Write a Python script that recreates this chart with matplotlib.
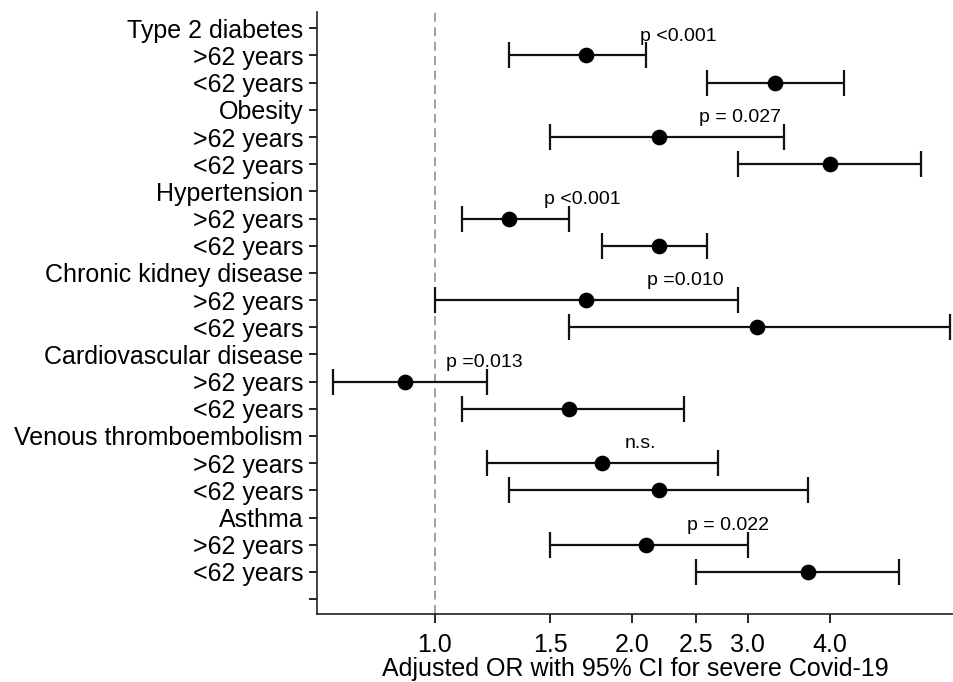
import numpy as np
import matplotlib
matplotlib.use("Agg")
import matplotlib.pyplot as plt

plt.rcParams['font.family'] = ['Liberation Sans', 'DejaVu Sans']

labels = ['Type 2 diabetes', '>62 years', '<62 years',
          'Obesity', '>62 years', '<62 years',
          'Hypertension', '>62 years', '<62 years',
          'Chronic kidney disease', '>62 years', '<62 years',
          'Cardiovascular disease', '>62 years', '<62 years',
          'Venous thromboembolism', '>62 years', '<62 years',
          'Asthma', '>62 years', '<62 years', '']

# odds ratios and 95% CI for the age rows (category rows have none)
rows = [1, 2, 4, 5, 7, 8, 10, 11, 13, 14, 16, 17, 19, 20]
odds = [1.70, 3.30, 2.20, 4.00, 1.30, 2.20, 1.70, 3.10, 0.90, 1.60, 1.80, 2.20, 2.10, 3.70]
ci_low = [1.30, 2.60, 1.50, 2.90, 1.10, 1.80, 1.00, 1.60, 0.70, 1.10, 1.20, 1.30, 1.50, 2.50]
ci_high = [2.10, 4.20, 3.40, 5.50, 1.60, 2.60, 2.90, 6.10, 1.20, 2.40, 2.70, 3.70, 3.00, 5.10]

p_rows = [0, 3, 6, 9, 12, 15, 18]
p_text = ['p <0.001', 'p = 0.027', 'p <0.001', 'p =0.010', 'p =0.013', 'n.s.', 'p = 0.022']
p_x = [2.35, 2.92, 1.68, 2.41, 1.19, 2.06, 2.80]

xticks = [1.0, 1.5, 2.0, 2.5, 3.0, 4.0]

fig = plt.figure(figsize=(9.54, 6.82), dpi=100)
ax = fig.add_axes([317/954, 1 - 614/682, (954 - 317)/954, (614 - 12)/682])

odds = np.array(odds)
err = [odds - np.array(ci_low), np.array(ci_high) - odds]
ax.errorbar(odds, rows, xerr=err, fmt='o', color='black', ecolor='#111111',
            markersize=10.3, elinewidth=1.6, capsize=9.5, capthick=1.6, zorder=3)

ax.axvline(1.0, color='#999999', linestyle=(0, (5, 3)), linewidth=1.3, zorder=1)

for r, t, x in zip(p_rows, p_text, p_x):
    ax.text(x, r + 0.45, t, ha='center', va='baseline', fontsize=14)

ax.set_xscale('log')
ax.set_xlim(0.662, 6.18)
ax.set_xticks(xticks)
ax.set_xticklabels([f'{v:.1f}' for v in xticks], fontsize=18)
ax.set_xticks([], minor=True)

ax.set_yticks(range(len(labels)))
ax.set_yticklabels(labels, fontsize=18)
ax.set_ylim(21.55, -0.6)

ax.tick_params(axis='y', length=6, width=1.2, pad=4)
ax.tick_params(axis='x', length=6.5, width=1.2, pad=7)
for s in ['top', 'right']:
    ax.spines[s].set_visible(False)
for s in ['left', 'bottom']:
    ax.spines[s].set_linewidth(1.2)
    ax.spines[s].set_color('#222222')

ax.set_xlabel('Adjusted OR with 95% CI for severe Covid-19', fontsize=18, labelpad=0)

fig.savefig('out.png', dpi=100)
